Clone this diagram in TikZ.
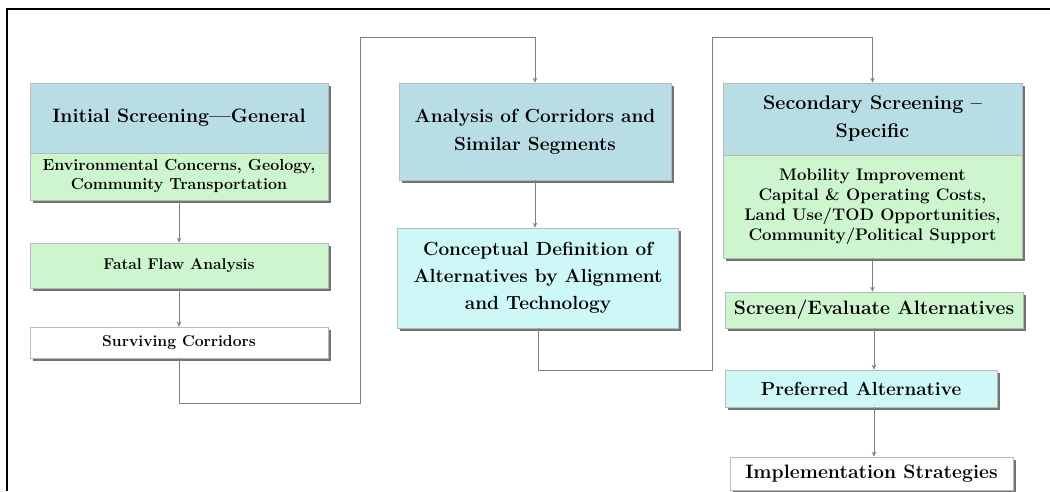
\documentclass[tikz,border=0pt]{standalone}
\usepackage{tikz}
\usetikzlibrary{shadows,arrows.meta}
\definecolor{hdrblue}{RGB}{184,221,229}
\definecolor{critgreen}{RGB}{206,246,206}
\definecolor{altcyan}{RGB}{206,248,248}
\begin{document}
\begin{tikzpicture}[x=1pt,y=-1pt,
  box/.style={draw=gray!55,line width=0.6pt,align=center,inner sep=2pt,
              drop shadow={shadow xshift=2.5pt,shadow yshift=-2.5pt,fill=black!55,opacity=1}},
  hdr/.style={box,fill=hdrblue,font=\bfseries\fontsize{19.4}{28}\selectfont},
  crit/.style={box,fill=critgreen,font=\bfseries\fontsize{16}{19}\selectfont},
  alt/.style={box,fill=altcyan,font=\bfseries\fontsize{19}{27}\selectfont},
  plain/.style={box,fill=white,font=\bfseries\fontsize{15.7}{19}\selectfont},
  conn/.style={draw=black!50,line width=0.9pt,-{Stealth[length=5pt,width=4.5pt]}}]
\useasboundingbox (0,0) rectangle (1050,491);
\draw[line width=1.6pt] (7,491) -- (7,9) -- (1050,9);

\node[hdr,minimum width=298pt,minimum height=70pt] (init) at (179,118) {Initial Screening---General};
\node[crit,minimum width=298pt,minimum height=47pt] (envir) at (179,176.5) {Environmental Concerns, Geology,\\Community Transportation};
\node[crit,minimum width=298pt,minimum height=45pt,font=\bfseries\fontsize{15.6}{19}\selectfont] (fatal) at (179,265.5) {Fatal Flaw Analysis};
\node[plain,minimum width=298pt,minimum height=31pt] (surv) at (179,342.5) {Surviving Corridors};

\node[hdr,minimum width=272pt,minimum height=97pt,font=\bfseries\fontsize{19}{28}\selectfont] (anal) at (535,131.5) {Analysis of Corridors and\\Similar Segments};
\node[alt,minimum width=281pt,minimum height=100pt] (conc) at (538,278) {Conceptual Definition of\\Alternatives by Alignment\\and Technology};

\node[hdr,minimum width=299pt,minimum height=72pt,font=\bfseries\fontsize{19.7}{28}\selectfont] (second) at (872.5,119) {Secondary Screening --\\Specific};
\node[crit,minimum width=299pt,minimum height=103pt,font=\bfseries\fontsize{16.8}{20}\selectfont] (mobil) at (872.5,206.5) {Mobility Improvement\\Capital \& Operating Costs,\\Land Use/TOD Opportunities,\\Community/Political Support};
\node[crit,minimum width=298pt,minimum height=36pt,font=\bfseries\fontsize{19.4}{20}\selectfont] (screen) at (874,310) {Screen/Evaluate Alternatives};
\node[alt,minimum width=272pt,minimum height=37pt,font=\bfseries\fontsize{18.9}{20}\selectfont] (pref) at (861,388.5) {Preferred Alternative};
\node[plain,minimum width=283pt,minimum height=33pt,font=\bfseries\fontsize{19.4}{20}\selectfont] (impl) at (871.5,473.5) {Implementation Strategies};

\coordinate (lowA) at (360,403);
\coordinate (topA) at (360,37);
\coordinate (lowB) at (712,370);
\coordinate (topB) at (712,37);

\draw[conn] (envir.south) -- (fatal.north);
\draw[conn] (fatal.south) -- (surv.north);
\draw[conn] (surv.south) |- (lowA) -- (topA) -| (anal.north);
\draw[conn] (anal.south) -- (anal.south |- conc.north);
\draw[conn] (conc.south) |- (lowB) -- (topB) -| (second.north);
\draw[conn] (mobil.south) -- (mobil.south |- screen.north);
\draw[conn] (screen.south) -- (screen.south |- pref.north);
\draw[conn] (screen.south |- pref.south) -- (screen.south |- impl.north);
\end{tikzpicture}
\end{document}
